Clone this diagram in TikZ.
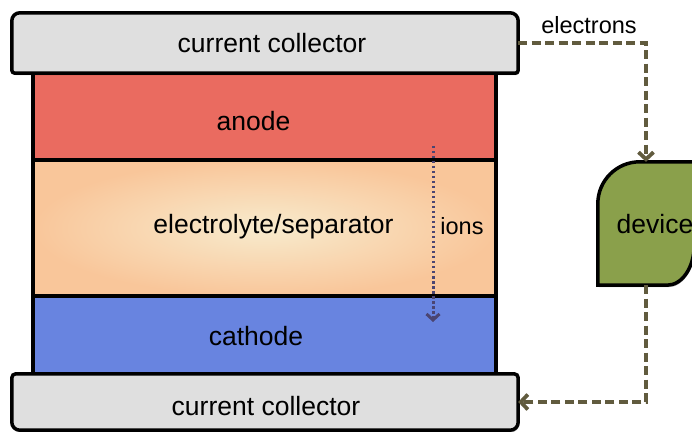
\documentclass[tikz,border=0pt]{standalone}
\usepackage{fontspec}
\setmainfont{Liberation Sans}
\usetikzlibrary{arrows.meta,shadows}
\definecolor{ccgray}{HTML}{DFDFDF}
\definecolor{anodered}{HTML}{EA6B60}
\definecolor{elecout}{HTML}{F9C69A}
\definecolor{elecin}{HTML}{F8EBCD}
\definecolor{cathblue}{HTML}{6884E0}
\definecolor{devgreen}{HTML}{8AA04B}
\definecolor{wireolive}{HTML}{615B3E}
\definecolor{ionpurple}{HTML}{4B4572}
\begin{document}
\begin{tikzpicture}[x=1pt,y=1pt,
  lbl/.style={font=\fontsize{26.5}{30}\selectfont, inner sep=0pt},
  smalllbl/.style={font=\fontsize{23.5}{28}\selectfont, inner sep=0pt},
  layerbox/.style={draw=black, line width=3.5pt, rectangle, inner sep=0pt, minimum width=463pt},
  ghost/.style={rectangle, inner sep=0pt},
  shadowed/.style={drop shadow={shadow xshift=1pt, shadow yshift=-2pt, opacity=0.3, fill=black}},
  wire/.style={draw=wireolive, line width=3.8pt, dash pattern=on 9pt off 4.5pt, -{Straight Barb[length=7pt,width=15pt]}},
  ionflow/.style={draw=ionpurple, line width=3pt, dash pattern=on 2.5pt off 2.5pt, -{Straight Barb[length=6pt,width=13pt]}}]
\useasboundingbox (0,0) rectangle (692,431);
\clip (0,0) rectangle (692,431);
% layers
\node[layerbox, fill=anodered, minimum height=88pt, shadowed] (anode) at (264.5,315) {};
\node[layerbox, shading=radial, inner color=elecin, outer color=elecout, minimum height=136pt] (elec) at (264.5,203) {};
\node[layerbox, fill=cathblue, minimum height=79pt] (cath) at (264.5,95.5) {};
% collectors
\node[ghost, minimum width=506pt, minimum height=60pt] (cc1) at (265,388) {};
\draw[line width=3.5pt, fill=ccgray, shadowed]
  ([yshift=3pt]cc1.south west) -- ([yshift=-8pt]cc1.north west)
  arc[start angle=180,end angle=90,radius=8pt] -- ([xshift=-8pt]cc1.north east)
  arc[start angle=90,end angle=0,radius=8pt] -- ([yshift=3pt]cc1.south east)
  arc[start angle=0,end angle=-90,radius=3pt] -- ([xshift=3pt]cc1.south west)
  arc[start angle=270,end angle=180,radius=3pt] -- cycle;
\node[ghost, minimum width=506pt, minimum height=56pt] (cc2) at (265,29) {};
\draw[line width=3.5pt, fill=ccgray, shadowed]
  ([yshift=8pt]cc2.south west) -- ([yshift=-4pt]cc2.north west)
  arc[start angle=180,end angle=90,radius=4pt] -- ([xshift=-4pt]cc2.north east)
  arc[start angle=90,end angle=0,radius=4pt] -- ([yshift=8pt]cc2.south east)
  arc[start angle=0,end angle=-90,radius=8pt] -- ([xshift=8pt]cc2.south west)
  arc[start angle=270,end angle=180,radius=8pt] -- cycle;
% device
\node[ghost, minimum width=96pt, minimum height=123pt] (dev) at (646,207.5) {};
\draw[line width=3.5pt, fill=devgreen, shadowed]
  (dev.south west) -- ([yshift=-42pt]dev.north west)
  arc[start angle=180,end angle=90,radius=42pt] -- (dev.north east)
  -- ([yshift=40pt]dev.south east)
  arc[start angle=0,end angle=-90,x radius=27pt,y radius=40pt] -- cycle;
% texts
\node[lbl] (tcc1) at (272,388) {current collector};
\node[lbl] (tanode) at (253.5,310) {anode};
\node[lbl] (telec) at (273.5,204) {electrolyte/separator};
\node[lbl] (tcath) at (256,95) {cathode};
\node[lbl] (tcc2) at (266,25) {current collector};
\node[lbl] (tdev) at (655,207) {device};
\node[smalllbl] (telectrons) at (589,406) {electrons};
\node[smalllbl] (tions) at (462,205) {ions};
% connectors
\draw[wire] (cc1.east) -| (dev.north);
\draw[wire] (dev.south) |- (cc2.east);
\coordinate (ionstart) at (433,285);
\coordinate (ionend) at (433,109);
\draw[ionflow] (ionstart) -- (ionend);
\end{tikzpicture}
\end{document}
